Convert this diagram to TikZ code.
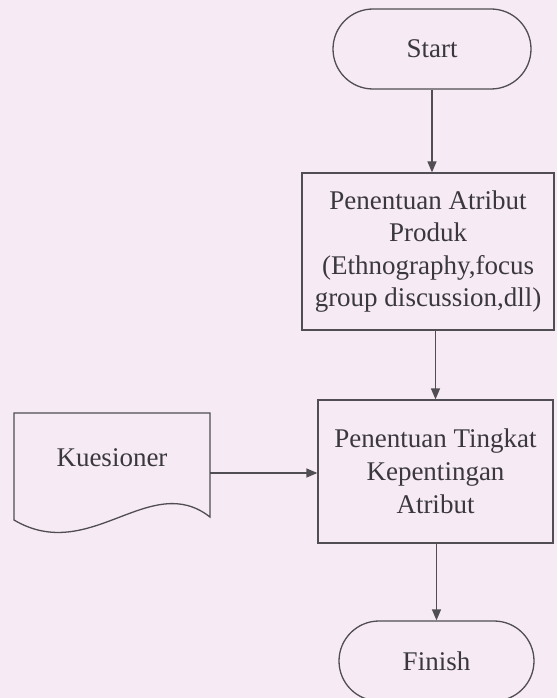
\documentclass[tikz,border=0pt]{standalone}
\usepackage{fontspec}
\setmainfont{Liberation Serif}
\usetikzlibrary{arrows.meta}

\definecolor{pagebg}{RGB}{246,234,244}
\definecolor{inkline}{RGB}{80,78,82}
\definecolor{inktext}{RGB}{58,56,62}

\tikzset{every picture/.style={line width=1.3pt}}
\tikzset{
  flowbox/.style={draw=inkline, rectangle, align=center, inner sep=0pt, text=inktext, font=\fontsize{27}{32.5}\selectfont},
  terminal/.style={draw=inkline, rectangle, rounded corners=40pt, minimum height=80pt, inner sep=0pt, text=inktext, font=\fontsize{27}{32}\selectfont},
  flowarrow/.style={draw=inkline, -{Triangle[length=11pt,width=9pt]}}
}

\begin{document}
\begin{tikzpicture}[x=1pt,y=1pt,yscale=-1,xscale=1]
%set diagram left start at 0, and has height of 698
\fill [pagebg] (0,0) rectangle (557,698);
\useasboundingbox (0,0) rectangle (557,698);

%Shape: Terminal [id:start]
\node [terminal, minimum width=198pt] (start) at (432,49) {Start};
%Shape: Rectangle [id:atribut]
\node [flowbox, minimum width=252pt, minimum height=157pt] (atribut) at (428,251.5) {Penentuan Atribut\\Produk\\(Ethnography,focus\\group discussion,dll)};
%Shape: Rectangle [id:tingkat]
\node [flowbox, minimum width=235pt, minimum height=143pt, font=\fontsize{27}{33}\selectfont] (tingkat) at (435.5,471.5) {Penentuan Tingkat\\Kepentingan\\Atribut};
%Shape: Terminal [id:finish]
\node [terminal, minimum width=195pt] (finish) at (436.5,661) {Finish};

%Shape: Document [id:kuesioner]
\draw [inkline] (14,520) -- (14,413) -- (210,413) -- (210,517) .. controls (150,470) and (90,565) .. (14,520) -- cycle ;
% Text Node
\node [text=inktext, font=\fontsize{27}{32}\selectfont, inner sep=0pt] (kues) at (112,458) {Kuesioner};
\coordinate (kuesR) at (210,473);

%Straight Lines
\draw [flowarrow] (start.south) -- (start.south |- atribut.north) ;
%Straight Lines
\draw [flowarrow] (atribut.south -| tingkat.north) -- (tingkat.north) ;
%Straight Lines
\draw [flowarrow] (kuesR) -- (kuesR -| tingkat.west) ;
%Straight Lines
\draw [flowarrow] (tingkat.south -| finish.north) -- (finish.north) ;

\end{tikzpicture}
\end{document}
